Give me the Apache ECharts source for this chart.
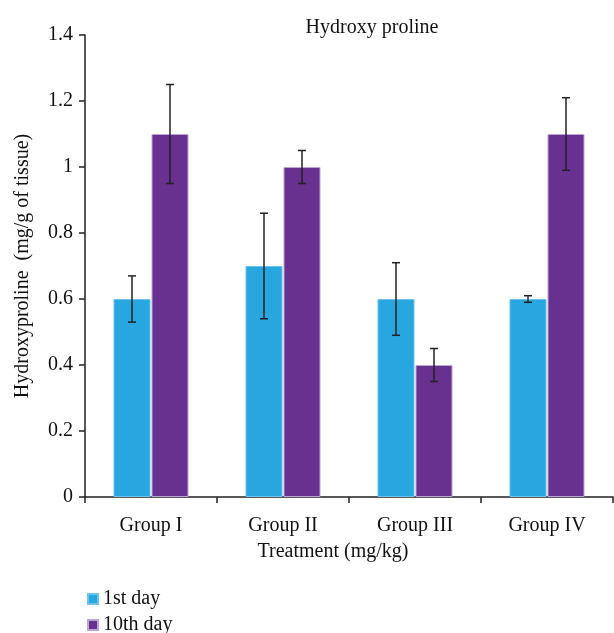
<!DOCTYPE html>
<html><head><meta charset="utf-8">
<script src="https://cdn.jsdelivr.net/npm/echarts@6/dist/echarts.min.js"></script>
<style>html,body{margin:0;padding:0;background:#fff}#c{width:614px;height:633px}</style>
</head><body><div id="c"></div>
<script>
const categories = ['Group I', 'Group II', 'Group III', 'Group IV'];
const seriesNames = ['1st day', '10th day'];
const day1 = [0.6, 0.7, 0.6, 0.6];
const day10 = [1.1, 1.0, 0.4, 1.1];
const day1Low = [0.53, 0.54, 0.49, 0.59];
const day1High = [0.67, 0.86, 0.71, 0.61];
const day10Low = [0.95, 0.95, 0.35, 0.99];
const day10High = [1.25, 1.05, 0.45, 1.21];
const yTicks = [0, 0.2, 0.4, 0.6, 0.8, 1, 1.2, 1.4];

const FONT = '"Liberation Serif", "DejaVu Serif", serif';
const FS = 20;
const BAR_W = 37;
const GAP = 1;

function errSeries(low, high, dir) {
  const data = categories.map((c, i) => [i, low[i], high[i]]);
  return {
    type: 'custom',
    name: 'err' + dir,
    z: 10,
    silent: true,
    data: data,
    encode: { x: 0, y: [1, 2] },
    renderItem: function (params, api) {
      const i = api.value(0);
      const lo = api.coord([i, api.value(1)]);
      const hi = api.coord([i, api.value(2)]);
      const x = lo[0] + dir * (BAR_W + GAP) / 2;
      const cap = 4;
      const st = { stroke: '#222', lineWidth: 1.5 };
      return {
        type: 'group',
        children: [
          { type: 'line', shape: { x1: x, y1: lo[1], x2: x, y2: hi[1] }, style: st },
          { type: 'line', shape: { x1: x - cap, y1: lo[1], x2: x + cap, y2: lo[1] }, style: st },
          { type: 'line', shape: { x1: x - cap, y1: hi[1], x2: x + cap, y2: hi[1] }, style: st }
        ]
      };
    }
  };
}

const chart = echarts.init(document.getElementById('c'));
chart.setOption({
  animation: false,
  backgroundColor: '#fff',
  title: {
    text: 'Hydroxy proline',
    left: 367, top: 13, textAlign: 'center',
    textStyle: { fontFamily: FONT, fontSize: FS, fontWeight: 'normal', color: '#111' }
  },
  legend: {
    data: seriesNames,
    orient: 'vertical',
    left: 87, top: 589,
    width: 150, height: 60,
    padding: 0,
    itemWidth: 10, itemHeight: 10, itemGap: 6,
    icon: 'rect',
    textStyle: { fontFamily: FONT, fontSize: FS, color: '#111' }
  },
  grid: { left: 85, right: 1, top: 35, bottom: 136, containLabel: false, outerBoundsMode: 'none' },
  xAxis: {
    type: 'category',
    data: categories,
    name: 'Treatment (mg/kg)',
    nameLocation: 'middle',
    nameGap: 45,
    nameTextStyle: { fontFamily: FONT, fontSize: FS, color: '#111', padding: [0, 32, 0, 0] },
    axisLine: { lineStyle: { color: '#222', width: 1.5 } },
    axisTick: { show: true, length: 6, lineStyle: { color: '#222', width: 1.5 } },
    axisLabel: { fontFamily: FONT, fontSize: FS, color: '#111', margin: 19 },
    splitLine: { show: false }
  },
  yAxis: {
    type: 'value',
    min: 0, max: 1.4, interval: 0.2,
    name: 'Hydroxyproline  (mg/g of tissue)',
    nameLocation: 'middle',
    nameGap: 52,
    nameTextStyle: { fontFamily: FONT, fontSize: FS, color: '#111' },
    axisLine: { show: true, lineStyle: { color: '#222', width: 1.5 } },
    axisTick: { show: true, inside: false, length: 6, lineStyle: { color: '#222', width: 1.5 } },
    axisLabel: {
      fontFamily: FONT, fontSize: FS, color: '#111', margin: 12,
      formatter: function (v) { const t = yTicks.find(x => Math.abs(x - v) < 1e-9); return t === undefined ? '' : String(t); }
    },
    splitLine: { show: false }
  },
  series: [
    {
      name: seriesNames[0], type: 'bar', data: day1,
      barWidth: BAR_W, barGap: (GAP / BAR_W * 100) + '%',
      itemStyle: { color: '#27a6df', borderColor: '#6cc4ee', borderWidth: 1 }
    },
    {
      name: seriesNames[1], type: 'bar', data: day10,
      barWidth: BAR_W,
      itemStyle: { color: '#68318f', borderColor: '#b9a6d6', borderWidth: 1 }
    },
    errSeries(day1Low, day1High, -1),
    errSeries(day10Low, day10High, 1)
  ]
});
</script></body></html>
